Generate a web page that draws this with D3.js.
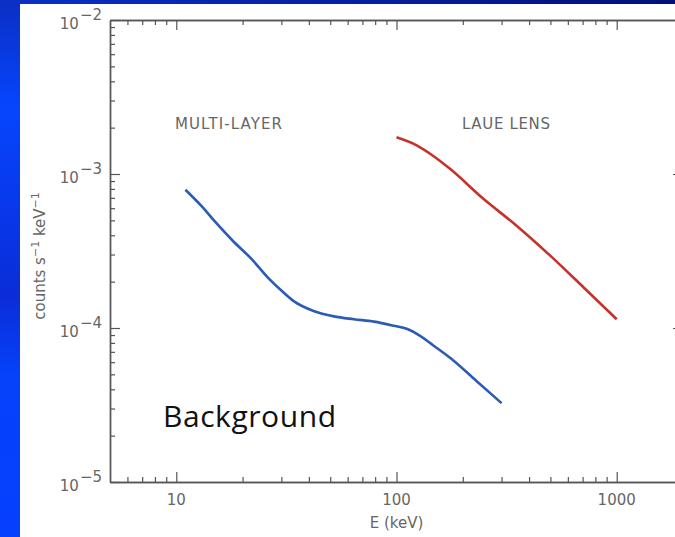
<!DOCTYPE html>
<head>
  <meta charset="utf-8">
  <title>Background: multi-layer and Laue lens</title>
  <style>
    body { margin: 0; overflow: hidden; }
    .axis .domain { stroke: #555; stroke-width: 1.4; }
    .axis line { stroke: #555; stroke-width: 1.2; }
    .axis text { display: none; }
    .lbl { font-family: "DejaVu Sans", sans-serif; fill: #666; }
  </style>
</head>
<body>
  <svg width="675" height="537"></svg>

  <script src="https://cdn.jsdelivr.net/npm/d3@7"></script>
  <script>

    // energy grid (keV) and background (counts s^-1 keV^-1)
    var multiLayerE = [11, 13, 15, 18, 22, 26, 30, 34, 42, 52, 64, 79, 97, 112, 128, 147, 175, 230, 300];
    var multiLayerBg = [7.9e-4, 6.2e-4, 4.9e-4, 3.7e-4, 2.8e-4, 2.13e-4, 1.75e-4, 1.5e-4, 1.29e-4, 1.19e-4,
                        1.14e-4, 1.1e-4, 1.035e-4, 9.85e-5, 8.9e-5, 7.7e-5, 6.4e-5, 4.55e-5, 3.25e-5];

    var laueE = [100, 124, 147, 175, 248, 352, 499, 706, 1000];
    var laueBg = [1.73e-3, 1.53e-3, 1.31e-3, 1.08e-3, 6.9e-4, 4.6e-4, 2.95e-4, 1.84e-4, 1.14e-4];

    var xMajor = [10, 100, 1000];
    var xLabels = ["10", "100", "1000"];
    var yMajor = [1e-5, 1e-4, 1e-3, 1e-2];
    var yExponents = ["\u22125", "\u22124", "\u22123", "\u22122"];

    var svg = d3.select("svg");

    // slide background
    var defs = svg.append("defs");
    var gradLeft = defs.append("linearGradient").attr("id", "gLeft")
        .attr("x1", 0).attr("y1", 0).attr("x2", 0).attr("y2", 1);
    gradLeft.append("stop").attr("offset", "0%").attr("stop-color", "#0a2fc4");
    gradLeft.append("stop").attr("offset", "20%").attr("stop-color", "#0645ff");
    gradLeft.append("stop").attr("offset", "55%").attr("stop-color", "#0a2dd8");
    gradLeft.append("stop").attr("offset", "70%").attr("stop-color", "#0542fa");
    gradLeft.append("stop").attr("offset", "100%").attr("stop-color", "#0640ff");
    var gradTop = defs.append("linearGradient").attr("id", "gTop")
        .attr("x1", 0).attr("y1", 0).attr("x2", 1).attr("y2", 0);
    gradTop.append("stop").attr("offset", "0%").attr("stop-color", "#0a30c8");
    gradTop.append("stop").attr("offset", "100%").attr("stop-color", "#00107a");

    svg.append("rect").attr("width", 675).attr("height", 537).attr("fill", "url(#gLeft)");
    svg.append("rect").attr("x", 0).attr("width", 675).attr("height", 6).attr("fill", "url(#gTop)");
    svg.append("rect").attr("x", 20).attr("y", 4).attr("width", 655).attr("height", 533).attr("fill", "#fff");

    var plot = {left: 110, right: 683, top: 20, bottom: 482};

    var x = d3.scaleLog().domain([5, 2000]).range([plot.left, plot.right]);
    var y = d3.scaleLog().domain([1e-5, 1e-2]).range([plot.bottom, plot.top]);

    // minor tick positions: 2..9 of each decade
    var xMinor = [], yMinor = [];
    [1, 10, 100, 1000].forEach(function(d) {
      for (var k = 2; k <= 9; k++) if (d * k > 5 && d * k <= 2000) xMinor.push(d * k);
    });
    [1e-5, 1e-4, 1e-3].forEach(function(d) {
      for (var k = 2; k <= 9; k++) yMinor.push(d * k);
    });

    function drawAxis(axisFn, scale, transform, ticks, size) {
      svg.append("g")
          .attr("class", "axis")
          .attr("transform", transform)
          .call(axisFn(scale).tickValues(ticks).tickSize(size).tickSizeOuter(0));
    }

    // bottom & top (ticks inward)
    drawAxis(d3.axisBottom, x, "translate(0," + plot.bottom + ")", xMajor, -10);
    drawAxis(d3.axisBottom, x, "translate(0," + plot.bottom + ")", xMinor, -5);
    drawAxis(d3.axisTop, x, "translate(0," + plot.top + ")", xMajor, -10);
    drawAxis(d3.axisTop, x, "translate(0," + plot.top + ")", xMinor, -5);
    // left & right
    drawAxis(d3.axisLeft, y, "translate(" + plot.left + ",0)", yMajor, -10);
    drawAxis(d3.axisLeft, y, "translate(" + plot.left + ",0)", yMinor, -5);
    drawAxis(d3.axisRight, y, "translate(" + plot.right + ",0)", yMajor, -10);
    drawAxis(d3.axisRight, y, "translate(" + plot.right + ",0)", yMinor, -5);

    // x tick labels
    svg.append("g").selectAll("text")
      .data(xMajor)
      .enter().append("text")
        .attr("class", "lbl")
        .attr("x", function(d) { return x(d); })
        .attr("y", plot.bottom + 23)
        .attr("text-anchor", "middle")
        .attr("font-size", 15)
        .text(function(d, i) { return xLabels[i]; });

    svg.append("text")
        .attr("class", "lbl")
        .attr("x", x(100))
        .attr("y", plot.bottom + 46)
        .attr("text-anchor", "middle")
        .attr("font-size", 15)
        .text("E (keV)");

    // y tick labels, 10 with superscript exponent
    var yl = svg.append("g").selectAll("text")
      .data(yMajor)
      .enter().append("text")
        .attr("class", "lbl")
        .attr("x", plot.left - 8)
        .attr("y", function(d) { return y(d) + 9; })
        .attr("text-anchor", "end")
        .attr("font-size", 15);
    yl.append("tspan").text("10");
    yl.append("tspan").attr("dx", 1).attr("dy", -9).attr("font-size", 15)
        .text(function(d, i) { return yExponents[i]; });

    // y axis title
    var yt = svg.append("text")
        .attr("class", "lbl")
        .attr("transform", "translate(45," + 256 + ") rotate(-90)")
        .attr("text-anchor", "middle")
        .attr("font-size", 15);
    yt.append("tspan").text("counts s");
    yt.append("tspan").attr("dy", -6).attr("font-size", 11).text("\u22121");
    yt.append("tspan").attr("dy", 6).text(" keV");
    yt.append("tspan").attr("dy", -6).attr("font-size", 11).text("\u22121");

    // curves
    var line = d3.line()
        .x(function(d) { return x(d[0]); })
        .y(function(d) { return y(d[1]); })
        .curve(d3.curveMonotoneX);

    svg.append("path")
        .datum(d3.zip(multiLayerE, multiLayerBg))
        .attr("fill", "none")
        .attr("stroke", "#2a5cb5")
        .attr("stroke-width", 2.6)
        .attr("d", line);

    svg.append("path")
        .datum(d3.zip(laueE, laueBg))
        .attr("fill", "none")
        .attr("stroke", "#c4322c")
        .attr("stroke-width", 2.6)
        .attr("d", line);

    // annotations
    svg.append("text")
        .attr("class", "lbl")
        .attr("x", 175)
        .attr("y", 129)
        .attr("font-size", 15)
        .attr("fill", "#555")
        .attr("textLength", 107)
        .text("MULTI-LAYER");

    svg.append("text")
        .attr("class", "lbl")
        .attr("x", 462)
        .attr("y", 129)
        .attr("font-size", 15)
        .attr("textLength", 88)
        .text("LAUE LENS");

    svg.append("text")
        .attr("x", 163)
        .attr("y", 427)
        .attr("font-family", "'Open Sans', sans-serif")
        .attr("font-size", 30)
        .attr("fill", "#111")
        .attr("textLength", 173)
        .text("Background");

  </script>
</body>
